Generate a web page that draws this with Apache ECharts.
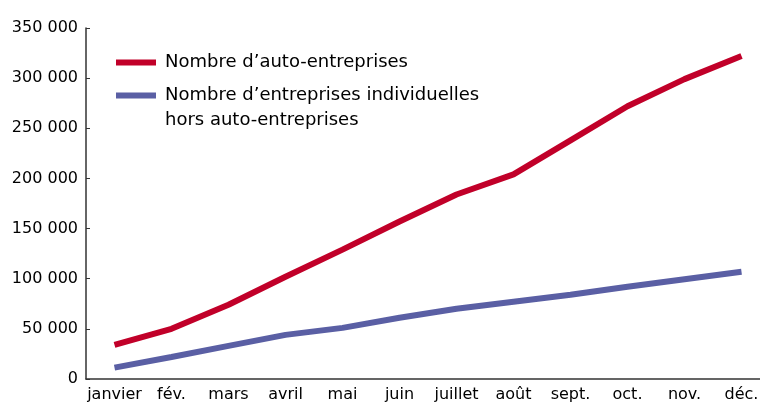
<!DOCTYPE html>
<html>
<head>
<meta charset="utf-8">
<script src="https://cdn.jsdelivr.net/npm/echarts@6/dist/echarts.min.js"></script>
<style>
  html, body { margin: 0; padding: 0; background: #fff; overflow: hidden; }
  #chart { width: 770px; height: 407px; }
</style>
</head>
<body>
<div id="chart"></div>
<script>
var months = ['janvier', 'fév.', 'mars', 'avril', 'mai', 'juin', 'juillet', 'août', 'sept.', 'oct.', 'nov.', 'déc.']
var autoEntreprises = [34000, 50000, 74000, 102000, 129000, 157000, 184000, 204000, 238000, 272000, 299000, 322000]
var horsAuto = [11300, 22000, 33000, 44000, 51000, 61000, 70000, 77000, 84000, 92000, 99500, 107000]
var yTicks = { min: 0, max: 350000, interval: 50000 }

var nameAuto = 'Nombre d’auto-entreprises'
var nameHors = 'Nombre d’entreprises individuelles\nhors auto-entreprises'

var font = 'DejaVu Sans'
var chart = echarts.init(document.getElementById('chart'))

chart.setOption({
  backgroundColor: '#fff',
  animation: false,
  textStyle: { fontFamily: font },
  legend: [{
    data: [nameAuto],
    left: 116,
    top: 50,
    padding: 0,
    icon: 'rect',
    itemWidth: 40,
    itemHeight: 6,
    textStyle: { fontFamily: font, fontSize: 18, color: '#000', lineHeight: 25, padding: [0, 0, 0, 4] }
  }, {
    data: [nameHors],
    left: 116,
    top: 58,
    padding: 0,
    icon: 'rect',
    itemWidth: 40,
    itemHeight: 6,
    // blank first line so the icon sits beside the first real line
    formatter: function (name) { return '\u00a0\n' + name },
    textStyle: { fontFamily: font, fontSize: 18, color: '#000', lineHeight: 25, padding: [0, 0, 0, 4] }
  }],
  grid: {
    left: 86,
    top: 28,
    right: 0,
    bottom: 28,
    containLabel: false
  },
  xAxis: {
    type: 'category',
    data: months,
    boundaryGap: true,
    axisLine: { lineStyle: { color: '#333', width: 1.5 } },
    axisTick: { inside: true, length: 5, lineStyle: { color: '#333' } },
    axisLabel: { color: '#000', fontSize: 16, fontFamily: font, margin: 8, interval: 0 },
    splitLine: { show: false }
  },
  yAxis: {
    type: 'value',
    min: yTicks.min,
    max: yTicks.max,
    interval: yTicks.interval,
    axisLine: { show: true, lineStyle: { color: '#333', width: 1.5 } },
    axisTick: { show: true, inside: true, length: 4, lineStyle: { color: '#333' } },
    axisLabel: {
      color: '#000',
      fontSize: 16,
      fontFamily: font,
      margin: 8,
      formatter: function (v) {
        return String(v).replace(/\B(?=(\d{3})+(?!\d))/g, ' ')
      }
    },
    splitLine: { show: false }
  },
  series: [{
    name: nameAuto,
    type: 'line',
    data: autoEntreprises,
    symbol: 'none',
    lineStyle: { color: '#C10029', width: 6 },
    itemStyle: { color: '#C10029' }
  }, {
    name: nameHors,
    type: 'line',
    data: horsAuto,
    symbol: 'none',
    lineStyle: { color: '#5A5FA4', width: 6 },
    itemStyle: { color: '#5A5FA4' }
  }]
})
</script>
</body>
</html>
